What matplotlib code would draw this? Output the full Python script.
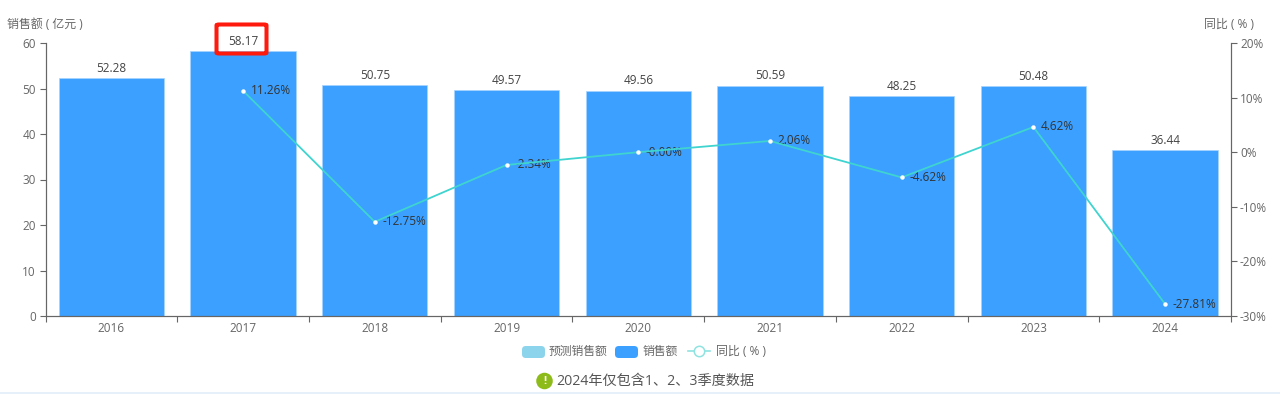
import matplotlib
matplotlib.use('Agg')
import matplotlib.pyplot as plt
from matplotlib.lines import Line2D
from matplotlib.patches import FancyBboxPatch, Rectangle
import numpy as np

years = ['2016', '2017', '2018', '2019', '2020', '2021', '2022', '2023', '2024']
sales = [52.28, 58.17, 50.75, 49.57, 49.56, 50.59, 48.25, 50.48, 36.44]
yoy_years = ['2017', '2018', '2019', '2020', '2021', '2022', '2023', '2024']
yoy = [11.26, -12.75, -2.34, -0.00, 2.06, -4.62, 4.62, -27.81]
left_ticks = [0, 10, 20, 30, 40, 50, 60]
right_ticks = [-30, -20, -10, 0, 10, 20]

W, H = 1280, 394
BAR = '#3BA0FF'
LINE = '#3FD4CF'
GREY = '#666666'
DARK = '#444444'

plt.rcParams['font.family'] = ['Open Sans', 'Noto Sans CJK SC', 'DejaVu Sans']


def swatch(x0, x1, y0, y1, color):
    # rounded legend box, given in pixels from the top left
    fig.add_artist(FancyBboxPatch((x0 / W, 1 - y1 / H), (x1 - x0) / W, (y1 - y0) / H,
                                  boxstyle='round,pad=0,rounding_size=0.003', mutation_aspect=3.2,
                                  transform=fig.transFigure, facecolor=color, edgecolor='none'))


fig = plt.figure(figsize=(W / 100, H / 100), dpi=100, facecolor='white')
ax = fig.add_axes([45.5 / W, 1 - 316 / H, (1231 - 45.5) / W, (316 - 43) / H])
ax2 = ax.twinx()

x = np.arange(len(years))
ax.bar(x, sales, width=0.8, color=BAR, edgecolor='#A8D4FF', linewidth=0.5, zorder=2)
for xi, v in zip(x, sales):
    ax.annotate(f'{v:.2f}', (xi, v), xytext=(0, 2.5), textcoords='offset points',
                ha='center', va='bottom', fontsize=8.5, color=DARK)

ax.set_xlim(-0.5, len(years) - 0.5)
ax.set_ylim(0, 60)
ax.set_yticks(left_ticks)
ax.set_xticks(np.arange(len(years) + 1) - 0.5)
ax.set_xticklabels([])
ax.set_xticks(x, minor=True)
ax.set_xticklabels(years, minor=True)
ax.tick_params(axis='x', which='major', length=4, width=0.8, color=GREY)
ax.tick_params(axis='x', which='minor', length=0, pad=4, labelsize=8.5, labelcolor=GREY)
ax.tick_params(axis='y', length=4, width=0.8, color=GREY, labelsize=8.5, labelcolor=GREY, pad=3)

# the line sits on the right hand scale, drawn over the bars
yoy_x = [years.index(y) for y in yoy_years]
ax2.set_ylim(-30, 20)
ax2.set_yticks(right_ticks)
ax2.set_yticklabels([f'{t}%' for t in right_ticks])
ax2.tick_params(axis='y', length=4, width=0.8, color=GREY, labelsize=8.5, labelcolor=GREY, pad=2.5)
ax2.plot(yoy_x, yoy, color=LINE, linewidth=1.3, marker='o', markersize=2.2,
         markerfacecolor='white', markeredgecolor='white', zorder=4)
for xi, v in zip(yoy_x, yoy):
    label = '-0.00%' if v == 0 else f'{v:.2f}%'
    ax2.annotate(label, (xi, v), xytext=(5.5, 0), textcoords='offset points',
                 ha='left', va='center', fontsize=8.5, color='#333333')

for a in (ax, ax2):
    a.spines['top'].set_visible(False)
    for s in ('left', 'right', 'bottom'):
        a.spines[s].set_color(GREY)
        a.spines[s].set_linewidth(0.8)

fig.text(7 / W, 1 - 24.5 / H, '销售额 ( 亿元 )', fontsize=8.6, color=GREY, ha='left', va='center')
fig.text(1204 / W, 1 - 24.5 / H, '同比 ( % )', fontsize=8.6, color=GREY, ha='left', va='center')

# red highlight round the 2017 value
fig.add_artist(FancyBboxPatch((216.5 / W, 1 - 53.5 / H), 50 / W, 29 / H,
                              boxstyle='round,pad=0,rounding_size=0.002',
                              transform=fig.transFigure, fill=False,
                              edgecolor='#FF1A0E', linewidth=2.9))

# legend placed by hand, one entry at a time
swatch(522, 545, 346, 358, '#8CD3EC')
fig.text(549 / W, 1 - 351.5 / H, '预测销售额', fontsize=8.5, color=GREY, ha='left', va='center')
swatch(615, 638, 346, 358, BAR)
fig.text(643 / W, 1 - 351.5 / H, '销售额', fontsize=8.5, color=GREY, ha='left', va='center')
fig.add_artist(Line2D([688 / W, 710 / W], [1 - 351 / H, 1 - 351 / H], transform=fig.transFigure,
                      color='#8FE3E0', linewidth=1.2))
fig.add_artist(Line2D([699 / W], [1 - 351 / H], transform=fig.transFigure, marker='o', markersize=7.5,
                      markerfacecolor='white', markeredgecolor='#8FE3E0', markeredgewidth=1.1))
fig.text(716 / W, 1 - 351.5 / H, '同比 ( % )', fontsize=8.6, color=GREY, ha='left', va='center')

fig.text(544.5 / W, 1 - 381 / H, '!', fontsize=8, color='white', ha='center', va='center',
         fontweight='bold', zorder=6,
         bbox=dict(boxstyle='circle,pad=0.25', facecolor='#8DBB1A', edgecolor='none'))
fig.text(556 / W, 1 - 381 / H, '2024年仅包含1、2、3季度数据', fontsize=10.2, color='#555555',
         ha='left', va='center')

fig.add_artist(Rectangle((0, 0), 1, 2.5 / H, transform=fig.transFigure,
                         facecolor='#E6F0FA', edgecolor='none'))

fig.savefig('out.png', dpi=100)
